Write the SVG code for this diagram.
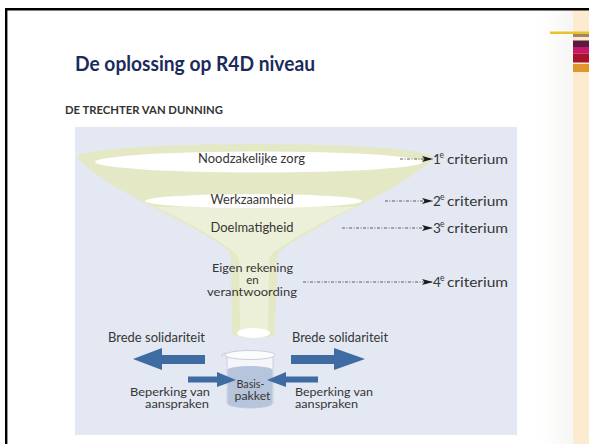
<svg xmlns="http://www.w3.org/2000/svg" width="589" height="444" viewBox="0 0 589 444">
  <defs>
    <linearGradient id="fade" x1="0" y1="0" x2="1" y2="0">
      <stop offset="0" stop-color="#FFFFFF"/>
      <stop offset="1" stop-color="#F6F6F4"/>
    </linearGradient>
    <marker id="dart" viewBox="0 0 11 6" refX="11" refY="3" markerWidth="11" markerHeight="6" markerUnits="userSpaceOnUse" orient="auto">
      <path d="M0,0 L11,3 L0,6 L2.5,3 Z" fill="#1A1A1A"/>
    </marker>
    <style>
      .lbl { font-family: "Lato", "Liberation Sans", sans-serif; font-size: 13px; fill: #363636; }
      .sm { font-size: 11.5px; }
      .cr { font-size: 13.5px; }
      .mid { text-anchor: middle; }
      .end { text-anchor: end; }
      .sup { font-family: "Lato", "Liberation Sans", sans-serif; font-size: 8.5px; fill: #363636; }
      .crit { stroke: #3A3A3A; stroke-width: 0.8; stroke-dasharray: 3 1.5 1 1.5; fill: none; }
      .big { fill: #3E6BA2; }
      .rim { fill: #E4E8C5; }
      .light { fill: #EDF0D8; }
    </style>
  </defs>

  <!-- page -->
  <rect x="0" y="0" width="589" height="444" fill="#FFFFFF"/>
  <rect x="540" y="9" width="33" height="435" fill="url(#fade)"/>
  <rect x="573" y="9" width="16" height="435" fill="#FDEBD0"/>
  <rect x="550" y="31.5" width="39" height="2.5" fill="#ECC22A"/>
  <rect x="573" y="34" width="16" height="3" fill="#A08466"/>
  <rect x="573" y="40.5" width="16" height="6.5" fill="#5C1B3E"/>
  <rect x="573" y="47" width="16" height="6.5" fill="#C8166A"/>
  <rect x="573" y="53.5" width="16" height="9" fill="#A9122C"/>
  <rect x="573" y="64" width="16" height="8" fill="#E0962A"/>
  <path d="M6.2,444 V9.2 H589" fill="none" stroke="#000000" stroke-width="2.4"/>

  <!-- titles -->
  <text x="75" y="71" font-family="Lato, 'Liberation Sans', sans-serif" font-size="20" font-weight="bold" fill="#1B2B5C" textLength="240" lengthAdjust="spacingAndGlyphs">De oplossing op R4D niveau</text>
  <text x="65" y="114" font-family="Lato, 'Liberation Sans', sans-serif" font-size="11" font-weight="bold" fill="#333333" textLength="158" lengthAdjust="spacingAndGlyphs">DE TRECHTER VAN DUNNING</text>

  <!-- panel -->
  <rect x="75" y="127" width="442" height="308" fill="#E3E8F2"/>

  <!-- funnel -->
  <g id="funnel">
    <ellipse class="rim" cx="254.5" cy="157" rx="177.5" ry="13"/>
    <path class="rim" d="M77,157 Q95,178 145,203 Q205,233 227,249 Q231,253 231,260 L232,333 A21.5,5 0 0 0 275,333 L277,260 Q277,253 282,249 Q305,233 362,204 Q410,180 432,160 Z"/>
    <path class="light" d="M156,207 Q205,230 234,252 Q239,256 239,262 L240,332 L268,332 L269,262 Q269,256 274,252 Q305,230 354,207 Z"/>
    <ellipse cx="259" cy="162" rx="164" ry="10.5" fill="#FFFFFF"/>
    <ellipse cx="253.5" cy="201" rx="108.5" ry="7" fill="#FFFFFF"/>
    <ellipse cx="253.5" cy="333" rx="16.5" ry="5" fill="#FFFFFF"/>
  </g>

  <!-- funnel labels -->
  <g id="n1"><text class="lbl mid" x="251.5" y="163" textLength="107" lengthAdjust="spacingAndGlyphs">Noodzakelijke zorg</text></g>
  <g id="n2"><text class="lbl mid" x="252" y="203.5" textLength="83" lengthAdjust="spacingAndGlyphs">Werkzaamheid</text></g>
  <g id="n3"><text class="lbl mid" x="252" y="232" textLength="83" lengthAdjust="spacingAndGlyphs">Doelmatigheid</text></g>
  <g id="n4">
    <text class="lbl sm mid" x="252.5" y="272" textLength="81" lengthAdjust="spacingAndGlyphs">Eigen rekening</text>
    <text class="lbl sm mid" x="252.5" y="284">en</text>
    <text class="lbl sm mid" x="252" y="295.5" textLength="90" lengthAdjust="spacingAndGlyphs">verantwoording</text>
  </g>

  <!-- criteria -->
  <g id="c1">
    <text class="lbl cr" x="433" y="163.5">1</text><text class="sup" x="439.5" y="157.5">e</text>
    <text class="lbl cr" x="447" y="163.5" textLength="61" lengthAdjust="spacingAndGlyphs">criterium</text>
  </g>
  <g id="c2">
    <text class="lbl cr" x="433" y="205.5">2</text><text class="sup" x="440" y="199.5">e</text>
    <text class="lbl cr" x="447" y="205.5" textLength="61" lengthAdjust="spacingAndGlyphs">criterium</text>
  </g>
  <g id="c3">
    <text class="lbl cr" x="433" y="232.5">3</text><text class="sup" x="440" y="226.5">e</text>
    <text class="lbl cr" x="447" y="232.5" textLength="61" lengthAdjust="spacingAndGlyphs">criterium</text>
  </g>
  <g id="c4">
    <text class="lbl cr" x="433" y="286.5">4</text><text class="sup" x="440" y="280.5">e</text>
    <text class="lbl cr" x="447" y="286.5" textLength="61" lengthAdjust="spacingAndGlyphs">criterium</text>
  </g>

  <!-- beaker -->
  <g id="beaker">
    <path d="M227,356 L227,403 A23,5 0 0 0 273,403 L273,356" fill="#F4F6FA" stroke="#C9CED8" stroke-width="1"/>
    <path d="M227.5,370 L227.5,403 A22.5,5 0 0 0 272.5,403 L272.5,370 A22.5,4 0 0 0 227.5,370 Z" fill="#B6C4DC"/>
    <ellipse cx="250" cy="355" rx="25" ry="4.5" fill="#FBFCFE" stroke="#C9CED8" stroke-width="1"/>
    <path d="M226,353 Q221,353 222,357" fill="none" stroke="#C9CED8" stroke-width="1"/>
  </g>

  <!-- connectors -->
  <g id="connectors">
    <line class="crit" x1="400" y1="159" x2="433" y2="159" marker-end="url(#dart)"/>
    <line class="crit" x1="385" y1="201" x2="433" y2="201" marker-end="url(#dart)"/>
    <line class="crit" x1="342" y1="228" x2="433" y2="228" marker-end="url(#dart)"/>
    <line class="crit" x1="303" y1="282" x2="433" y2="282" marker-end="url(#dart)"/>
    <polygon class="big" points="133,359 162,348 162,355 205,355 205,364 162,364 162,370"/>
    <polygon class="big" points="365,359 334,348 334,355 291,355 291,364 334,364 334,370"/>
    <polygon class="big" points="236,380 217,372 217,376.5 188,376.5 188,382.5 217,382.5 217,387"/>
    <polygon class="big" points="267,380 286,372 286,376.5 318,376.5 318,382.5 286,382.5 286,387"/>
  </g>

  <!-- bottom labels -->
  <g id="b1"><text class="lbl" x="108" y="342" textLength="97" lengthAdjust="spacingAndGlyphs">Brede solidariteit</text></g>
  <g id="b2"><text class="lbl" x="292" y="342" textLength="96" lengthAdjust="spacingAndGlyphs">Brede solidariteit</text></g>
  <g id="b3">
    <text class="lbl sm end" x="210" y="396" textLength="80" lengthAdjust="spacingAndGlyphs">Beperking van</text>
    <text class="lbl sm end" x="209" y="407.5" textLength="64" lengthAdjust="spacingAndGlyphs">aanspraken</text>
  </g>
  <g id="b4">
    <text class="lbl sm" x="295" y="396" textLength="78" lengthAdjust="spacingAndGlyphs">Beperking van</text>
    <text class="lbl sm" x="295" y="407.5" textLength="63" lengthAdjust="spacingAndGlyphs">aanspraken</text>
  </g>
  <g id="basis">
    <text class="lbl sm mid" x="250.5" y="388" textLength="28" lengthAdjust="spacingAndGlyphs">Basis-</text>
    <text class="lbl sm mid" x="252.5" y="400" textLength="36" lengthAdjust="spacingAndGlyphs">pakket</text>
  </g>
</svg>
